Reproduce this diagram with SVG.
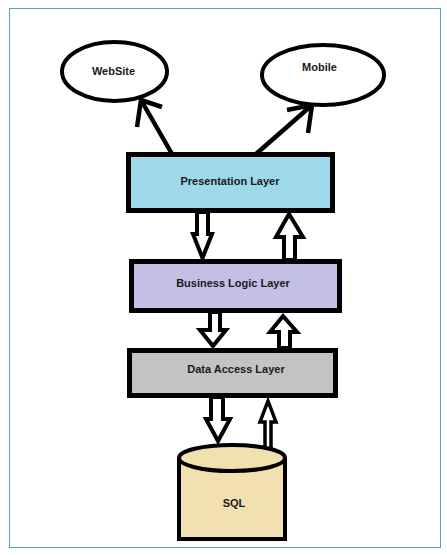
<svg xmlns="http://www.w3.org/2000/svg" width="447" height="555" viewBox="0 0 447 555">
<style>
.lbl{font-family:"Liberation Sans",Arial,sans-serif;font-size:11px;font-weight:bold;fill:#1a1a1a;text-anchor:middle}
.box{stroke:#000;stroke-width:5}
.ell{fill:#fff;stroke:#000;stroke-width:4}
.hol{fill:#fff;stroke:#000;stroke-width:4;stroke-linejoin:miter}
.ln{fill:none;stroke:#000;stroke-width:4.5;stroke-linecap:butt}
</style>
<rect x="0" y="0" width="447" height="555" fill="#fff"/>
<rect x="9.5" y="8.5" width="431" height="539" fill="none" stroke="#4aa3cf" stroke-width="1"/>
<g id="connectors">
<line class="ln" x1="172" y1="154" x2="141" y2="100"/>
<polyline class="ln" points="137,127 141,100 162,107"/>
<line class="ln" x1="256" y1="154" x2="312" y2="105"/>
<polyline class="ln" points="287,110 312,105 308,133"/>
<polygon class="hol" points="197,212 208,212 208,234 212,234 202.5,258 193,234 197,234"/>
<polygon class="hol" points="289,214 303,237 295,237 295,260 284,260 284,237 276,237"/>
<polygon class="hol" points="210,312 220,312 220,330 226,330 213,346 200,330 210,330"/>
<polygon class="hol" points="283,316 297,332 290,332 290,348 279,348 279,332 270,332"/>
<polygon class="hol" points="211,397 223,397 223,419 230,419 218,441 206,419 211,419"/>
<polygon class="hol" style="stroke-width:3.5" points="268,401 276,422 271,422 271,451 265,451 265,422 260,422"/>
</g>
<g id="website">
<ellipse class="ell" cx="114.5" cy="71.5" rx="52.5" ry="29.5"/>
<text class="lbl" x="113.5" y="75">WebSite</text>
</g>
<g id="mobile">
<ellipse class="ell" cx="323" cy="75" rx="61" ry="30"/>
<text class="lbl" x="319.5" y="71">Mobile</text>
</g>
<g id="presentation">
<rect class="box" x="128.5" y="154.5" width="204" height="56" fill="#9ed9ea"/>
<text class="lbl" x="230" y="185">Presentation Layer</text>
</g>
<g id="business">
<rect class="box" x="131.5" y="261.5" width="208" height="49" fill="#c4bfe4"/>
<text class="lbl" x="233" y="287">Business Logic Layer</text>
</g>
<g id="dataaccess">
<rect class="box" x="129.5" y="350.5" width="206" height="45" fill="#c3c3c3"/>
<text class="lbl" x="236" y="373">Data Access Layer</text>
</g>
<g id="sql">
<path d="M179,458 L179,539 L285,539 L285,458" fill="#f1e1b1" stroke="#000" stroke-width="4"/>
<ellipse cx="232" cy="458" rx="53" ry="13" fill="#f1e1b1" stroke="#000" stroke-width="4"/>
<text class="lbl" x="234" y="507">SQL</text>
</g>
</svg>
